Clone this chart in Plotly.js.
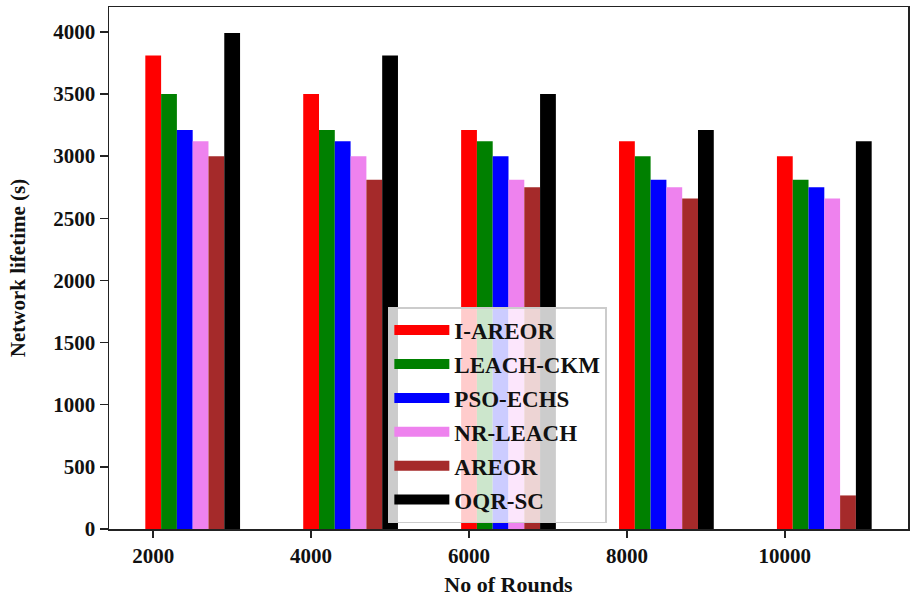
<!DOCTYPE html>
<html>
<head>
<meta charset="utf-8">
<script src="https://cdn.plot.ly/plotly-3.0.1.min.js"></script>
<style>html,body{margin:0;padding:0;background:#fff;}#chart{width:910px;height:601px;}</style>
</head>
<body>
<div id="chart"></div>
<script>
// Data
var rounds = [2000, 4000, 6000, 8000, 10000];
var seriesNames = ["I-AREOR", "LEACH-CKM", "PSO-ECHS", "NR-LEACH", "AREOR", "OQR-SC"];
var iAreor   = [3810, 3500, 3210, 3120, 3000];
var leachCkm = [3500, 3210, 3120, 3000, 2810];
var psoEchs  = [3210, 3120, 3000, 2810, 2750];
var nrLeach  = [3120, 3000, 2810, 2750, 2660];
var areor    = [3000, 2810, 2750, 2660, 270];
var oqrSc    = [3990, 3810, 3500, 3210, 3120];
var yTicks = [0, 500, 1000, 1500, 2000, 2500, 3000, 3500, 4000];

var seriesValues = [iAreor, leachCkm, psoEchs, nrLeach, areor, oqrSc];
var colors = ["#ff0000", "#008000", "#0000ff", "#ee82ee", "#a52a2a", "#000000"];
var barWidth = 200;

var font = "'Liberation Serif', 'Times New Roman', serif";
var traces = [];
seriesValues.forEach(function (vals, i) {
  traces.push({
    type: "bar",
    x: rounds,
    y: vals,
    width: barWidth,
    offset: i * barWidth - barWidth / 2,
    marker: {color: colors[i], line: {width: 0}},
    name: seriesNames[i],
    showlegend: false,
    hoverinfo: "x+y+name"
  });
});
// legend entries
seriesNames.forEach(function (n, i) {
  traces.push({
    type: "scatter",
    mode: "lines",
    x: [null], y: [null],
    name: n,
    legendgroup: "g" + i,
    line: {color: colors[i], width: 15},
    showlegend: true,
    hoverinfo: "skip"
  });
});

var layout = {
  width: 910, height: 601,
  margin: {l: 109, r: 2, t: 7, b: 72},
  paper_bgcolor: "#fff",
  plot_bgcolor: "#fff",
  barmode: "overlay",
  font: {family: font, size: 21, color: "#000"},
  xaxis: {
    range: [1440, 11560],
    tickmode: "array",
    tickvals: rounds,
    ticktext: rounds.map(String),
    ticks: "outside", ticklen: 7, tickwidth: 1.5, tickcolor: "#222",
    showline: true, linecolor: "#222", linewidth: 1.5, mirror: true,
    showgrid: false, zeroline: false,
    tickfont: {family: font, size: 21, color: "#111", weight: "bold"},
    title: {text: "<b>No of Rounds</b>", font: {family: font, size: 22, color: "#111"}, standoff: 10}
  },
  yaxis: {
    range: [0, 4200],
    tickmode: "array",
    tickvals: yTicks,
    ticktext: yTicks.map(String),
    ticks: "outside", ticklen: 8, tickwidth: 1.5, tickcolor: "#222",
    showline: true, linecolor: "#222", linewidth: 1.5, mirror: true,
    showgrid: false, zeroline: false,
    tickfont: {family: font, size: 21, color: "#111", weight: "bold"},
    title: {text: "<b>Network lifetime (s)</b>", font: {family: font, size: 21, color: "#111"}, standoff: 22}
  },
  legend: {
    x: 0.349, y: 0.425, xanchor: "left", yanchor: "top",
    bgcolor: "rgba(255,255,255,0.8)",
    bordercolor: "#cccccc", borderwidth: 1.5,
    font: {family: font, size: 23, color: "#111", weight: "bold"},
    tracegroupgap: 1,
    itemwidth: 55
  },
  showlegend: true
};

Plotly.newPlot("chart", traces, layout, {displayModeBar: false, staticPlot: true});
</script>
</body>
</html>
